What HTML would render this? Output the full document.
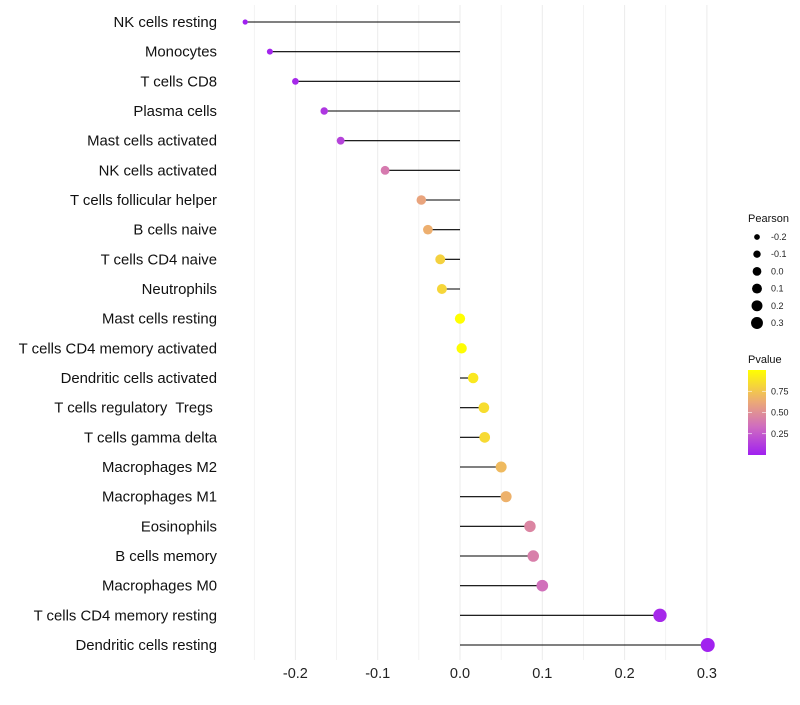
<!DOCTYPE html>
<html><head><meta charset="utf-8"><style>
body{margin:0;background:#fff;font-family:"Liberation Sans",sans-serif}
svg text{font-family:"Liberation Sans",sans-serif;white-space:pre}
</style></head><body>
<svg id="c" width="800" height="700">
<defs><linearGradient id="pg" x1="0" y1="1" x2="0" y2="0">
<stop offset="0" stop-color="#a020f0"/><stop offset="0.33" stop-color="#cf6cc0"/><stop offset="0.62" stop-color="#eba878"/><stop offset="1" stop-color="#ffff00"/></linearGradient></defs>
</svg>
<script>
const categories=["NK cells resting","Monocytes","T cells CD8","Plasma cells","Mast cells activated","NK cells activated","T cells follicular helper","B cells naive","T cells CD4 naive","Neutrophils","Mast cells resting","T cells CD4 memory activated","Dendritic cells activated","T cells regulatory  Tregs ","T cells gamma delta","Macrophages M2","Macrophages M1","Eosinophils","B cells memory","Macrophages M0","T cells CD4 memory resting","Dendritic cells resting"];
const pearson=[-0.261,-0.231,-0.200,-0.165,-0.145,-0.091,-0.047,-0.039,-0.024,-0.022,0.000,0.002,0.016,0.029,0.030,0.050,0.056,0.085,0.089,0.100,0.243,0.301];
const pvalue=[0.0,0.02,0.04,0.1,0.15,0.4,0.6,0.65,0.8,0.82,1.0,0.99,0.9,0.85,0.84,0.7,0.66,0.45,0.42,0.35,0.04,0.01];
const xTicks=[-0.2,-0.1,0.0,0.1,0.2,0.3];
const xTickLabels=["-0.2","-0.1","0.0","0.1","0.2","0.3"];
const sizeLegend=[-0.2,-0.1,0.0,0.1,0.2,0.3];
const sizeLegendLabels=["-0.2","-0.1","0.0","0.1","0.2","0.3"];
const pTicks=[0.25,0.5,0.75];
const pTickLabels=["0.25","0.50","0.75"];

const NS="http://www.w3.org/2000/svg",svg=document.getElementById('c');
const X=v=>460+v*823, Y=i=>22+i*29.667, R=v=>Math.sqrt(Math.max(2.2,26.4+75.2*v));
const stops=[[0,[160,32,240]],[0.33,[207,108,192]],[0.62,[235,168,120]],[1,[255,255,0]]];
function col(p){for(let i=1;i<stops.length;i++){if(p<=stops[i][0]){const a=stops[i-1],b=stops[i],t=(p-a[0])/(b[0]-a[0]);return 'rgb('+a[1].map((c,k)=>Math.round(c+(b[1][k]-c)*t)).join(',')+')';}}return 'rgb(255,255,0)';}
function el(t,a,txt){const e=document.createElementNS(NS,t);for(const k in a)e.setAttribute(k,a[k]);if(txt!==undefined)e.textContent=txt;svg.appendChild(e);return e;}
for(let v=-0.25;v<=0.3001;v+=0.05){const g=el('line',{x1:X(v),x2:X(v),y1:5,y2:660,stroke:'#ebebeb','stroke-width':Math.abs(Math.round(v*20))%2===0?1:0.6});

}
xTicks.forEach((v,i)=>{const t=el('text',{x:X(v),y:678,'text-anchor':'middle','font-size':14.5,fill:'#222'},xTickLabels[i]);

});
categories.forEach((c,i)=>{
const t=el('text',{x:217,y:Y(i)+5,'text-anchor':'end','font-size':14.9,fill:'#111'},c);


const l=el('line',{x1:X(0),x2:X(pearson[i]),y1:Y(i),y2:Y(i),stroke:'#000','stroke-width':1.1});


const d=el('circle',{cx:X(pearson[i]),cy:Y(i),r:R(pearson[i]),fill:col(pvalue[i])});


});
let t=el('text',{x:748,y:222,'font-size':11,fill:'#111'},'Pearson');


sizeLegend.forEach((v,i)=>{const y=237+i*17.2;
const c=el('circle',{cx:757,cy:y,r:R(v)*0.85,fill:'#000'});


const s=el('text',{x:771,y:y+3,'font-size':9,fill:'#222'},sizeLegendLabels[i]);

});
t=el('text',{x:748,y:363,'font-size':11,fill:'#111'},'Pvalue');


const bar=el('rect',{x:748,y:370,width:18,height:85,fill:'url(#pg)'});


pTicks.forEach((p,i)=>{const y=455-p*85;
el('line',{x1:748,x2:752,y1:y,y2:y,stroke:'#fff','stroke-width':0.6});
el('line',{x1:762,x2:766,y1:y,y2:y,stroke:'#fff','stroke-width':0.6});
const s=el('text',{x:771,y:y+3,'font-size':9,fill:'#222'},pTickLabels[i]);

});
</script>
</body></html>
